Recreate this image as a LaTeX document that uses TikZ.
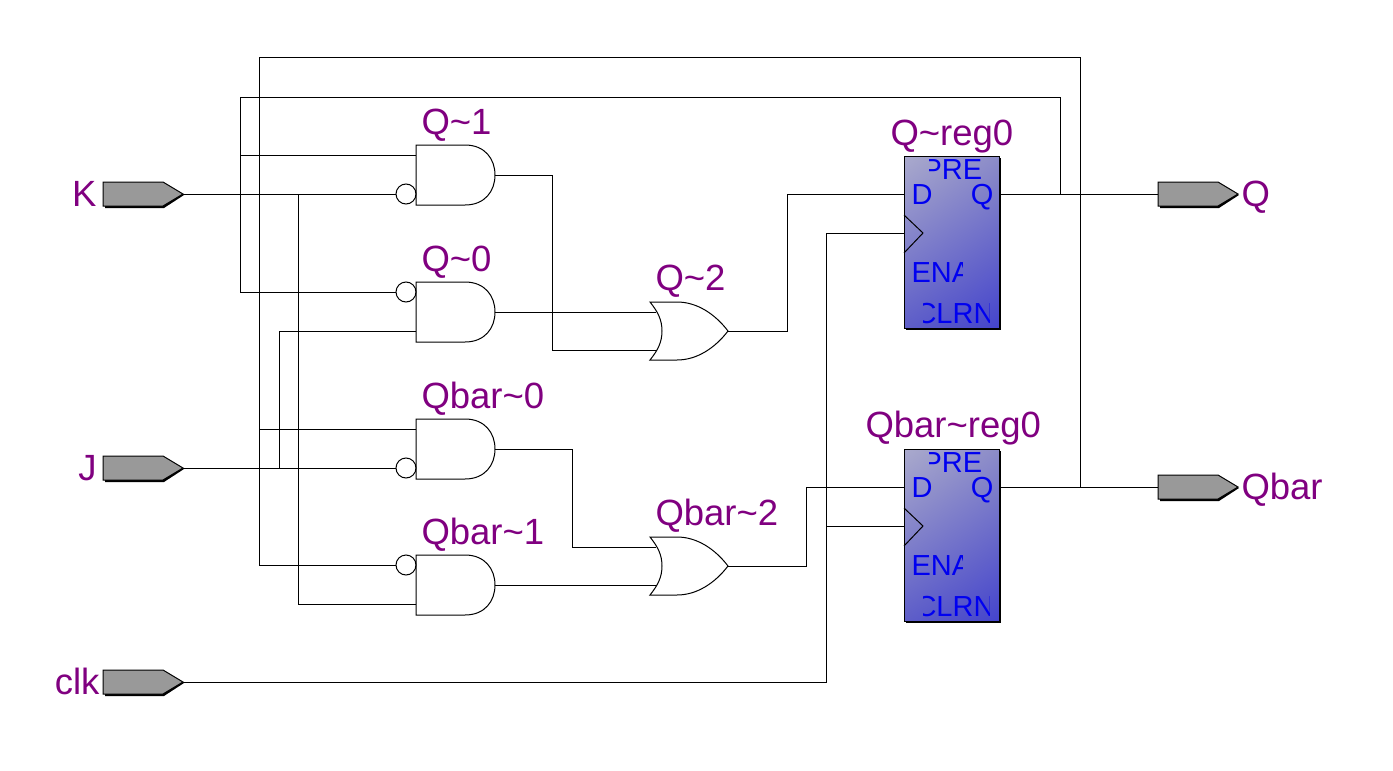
\documentclass[tikz,border=0pt]{standalone}
\usepackage{fontspec}
\usetikzlibrary{shadings}
\setmainfont{Liberation Sans}
\definecolor{labelpurple}{HTML}{800080}
\definecolor{pinblue}{HTML}{0000F0}
\definecolor{portgray}{HTML}{999999}
\definecolor{boxlight}{HTML}{AAAACC}
\definecolor{boxupper}{HTML}{8C8CC8}
\definecolor{boxlower}{HTML}{5E5EC8}
\definecolor{boxdark}{HTML}{4444CC}
\newcommand{\tld}{\char`\~}
\begin{document}
\begin{tikzpicture}[x=1pt,y=-1pt,line width=1pt,
    inst/.style={text=labelpurple,anchor=base west,inner sep=0pt,font=\fontsize{36.5}{36.5}\selectfont},
    pin/.style={text=pinblue,anchor=base west,inner sep=0pt,font=\fontsize{29}{29}\selectfont},
    bubble/.style={circle,draw,inner sep=0pt,minimum size=20pt},
    andgate/.pic={
        \draw (0,0) -- (49,0) .. controls (69,0) and (79,14) .. (79,30)
            .. controls (79,46) and (69,60) .. (49,60) -- (0,60) -- cycle;
        \coordinate (-a) at (0,10);
        \coordinate (-b) at (0,49);
        \coordinate (-out) at (79,30);
    },
    orgate/.pic={
        \draw (0,0) -- (27,0) .. controls (47,0) and (65,12) .. (78,29)
            .. controls (65,46) and (47,58) .. (27,58) -- (0,58)
            .. controls (8,48) and (12,40) .. (12,29)
            .. controls (12,18) and (8,10) .. (0,0) -- cycle;
        \coordinate (-a) at (6,10);
        \coordinate (-b) at (6,48);
        \coordinate (-out) at (78,29);
    },
    dff/.pic={
        \fill (2,2) rectangle (97,174);
        \shade[draw=black,upper left=boxlight,upper right=boxupper,lower left=boxlower,lower right=boxdark]
            (0,0) rectangle (95,172);
        \draw (0,59) -- (19,77) -- (0,97);
        % pin names, cut off like the original
        \begin{scope}
            \clip (25,0) rectangle (95,172);
            \node[pin] (-pre) at (18,23) {PRE};
        \end{scope}
        \node[pin] (-d) at (7,48) {D};
        \node[pin,anchor=base east] (-q) at (90,48) {Q};
        \begin{scope}
            \clip (0,100) rectangle (58,140);
            \node[pin] (-ena) at (7,126) {ENA};
        \end{scope}
        \begin{scope}
            \clip (19,140) rectangle (85,172);
            \node[pin] (-clrn) at (11,167) {CLRN};
        \end{scope}
        \coordinate (-din) at (0,38);
        \coordinate (-clk) at (0,77);
        \coordinate (-qout) at (95,38);
    },
    inport/.pic={
        \fill (2,3) -- (61,3) -- (81,13) -- (61,26) -- (2,26) -- cycle;
        \draw[fill=portgray] (0,0) -- (60,0) -- (80,12) -- (60,24) -- (0,24) -- cycle;
        \coordinate (-tip) at (80,12);
        \coordinate (-back) at (0,12);
    }]
    \useasboundingbox (0,0) rectangle (1393,771);
    % and gates
    \foreach \nm/\yy in {qa/145,qb/282,qc/419,qd/555} { \pic (\nm) at (416,\yy) {andgate}; }
    % or gates
    \pic (qe) at (650,302) {orgate};
    \pic (qf) at (650,537) {orgate};
    % registers
    \pic (rega) at (904,156) {dff};
    \pic (regb) at (904,449) {dff};
    % ports
    \pic (pk) at (103,182) {inport};
    \pic (pj) at (103,456) {inport};
    \pic (pc) at (103,670) {inport};
    \pic (pq) at (1158,182) {inport};
    \pic (pb) at (1158,475) {inport};
    % inverted inputs
    \node [bubble] (ba) at (406,194) {};
    \node [bubble] (bb) at (406,292) {};
    \node [bubble] (bc) at (406,468) {};
    \node [bubble] (bd) at (406,565) {};
    % labels
    \node [inst] (la) at (421,134) {Q\tld 1};
    \node [inst] (lb) at (421,271) {Q\tld 0};
    \node [inst] (lc) at (421,408) {Qbar\tld 0};
    \node [inst] (ld) at (421,544) {Qbar\tld 1};
    \node [inst] (le) at (655,290) {Q\tld 2};
    \node [inst] (lf) at (655,525) {Qbar\tld 2};
    \node [inst] (lg) at (890,145) {Q\tld reg0};
    \node [inst] (lh) at (865,437) {Qbar\tld reg0};
    \node [inst,anchor=base east] (lk) at (97,206) {K};
    \node [inst,anchor=base east] (lj) at (97,480) {J};
    \node [inst,anchor=base east] (lc2) at (100,694) {clk};
    \node [inst] (lq) at (1241,206) {Q};
    \node [inst] (lb2) at (1241,499) {Qbar};
    % junctions on the wires
    \coordinate (ktap) at (298,194);
    \coordinate (jtapb) at (279,468);
    \coordinate (qtap) at (1060,194);
    \coordinate (btap) at (1080,487);
    \coordinate (fbq) at (240,155);
    \coordinate (fbb) at (259,429);
    \coordinate (clktap) at (826,526);
    % wires from the inputs
    \draw (pk-tip) -- (ba.west);
    \draw (pj-tip) -- (bc.west);
    \draw (ktap) |- (qd-b);
    \draw (jtapb) |- (qb-b);
    % feedback from Q
    \draw (qtap) |- (240,97) |- (bb.west);
    \draw (fbq) -- (qa-a);
    % feedback from Qbar
    \draw (btap) |- (259,57) |- (bd.west);
    \draw (fbb) -- (qc-a);
    % gate outputs
    \draw (qa-out) -| (552,350) -- (qe-b);
    \draw (qb-out) -- (qe-a);
    \draw (qc-out) -| (572,547) -- (qf-a);
    \draw (qd-out) -- (qf-b);
    \draw (qe-out) -| (787,194) -- (rega-din);
    \draw (qf-out) -| (806,487) -- (regb-din);
    % clock
    \draw (pc-tip) -| (826,233) -- (rega-clk);
    \draw (clktap) -- (regb-clk);
    % register outputs
    \draw (rega-qout) -- (pq-back);
    \draw (regb-qout) -- (pb-back);
\end{tikzpicture}
\end{document}
